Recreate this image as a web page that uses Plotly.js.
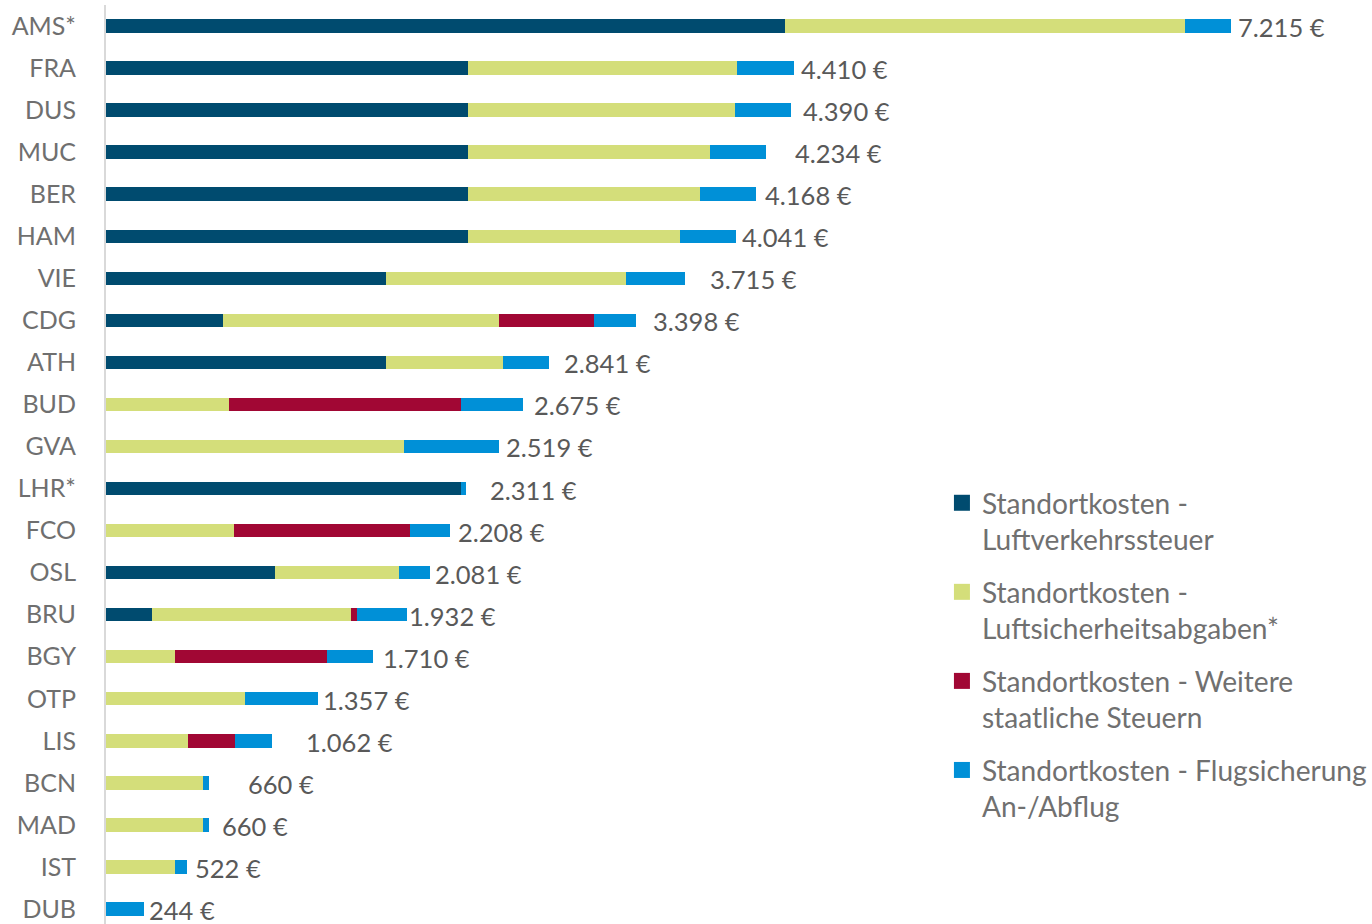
<!DOCTYPE html>
<html>
<head>
<meta charset="utf-8">
<script src="https://cdn.plot.ly/plotly-3.0.1.min.js"></script>
<style>
  html, body { margin: 0; padding: 0; background: #ffffff; }
  #chart { width: 1372px; height: 924px; }
</style>
</head>
<body>
<div id="chart"></div>
<script>
// ---- Data ----
const airports = ["AMS*", "FRA", "DUS", "MUC", "BER", "HAM", "VIE", "CDG", "ATH", "BUD", "GVA",
                  "LHR*", "FCO", "OSL", "BRU", "BGY", "OTP", "LIS", "BCN", "MAD", "IST", "DUB"];

const luftverkehrssteuer = [4355, 2324, 2324, 2324, 2324, 2324, 1794, 750, 1794, 0, 0,
                            2277, 0, 1084, 295, 0, 0, 0, 0, 0, 0, 0];
const luftsicherheit     = [2565, 1723, 1708, 1548, 1484, 1356, 1543, 1772, 752, 791, 1909,
                            0, 823, 797, 1278, 445, 894, 528, 622, 622, 445, 0];
const weitereSteuern     = [0, 0, 0, 0, 0, 0, 0, 605, 0, 1488, 0,
                            0, 1125, 0, 37, 973, 0, 299, 0, 0, 0, 0];
const flugsicherung      = [295, 363, 358, 362, 360, 361, 378, 271, 295, 396, 610,
                            34, 260, 200, 322, 292, 463, 235, 38, 38, 77, 244];

const totals = [7215, 4410, 4390, 4234, 4168, 4041, 3715, 3398, 2841, 2675, 2519,
                2311, 2208, 2081, 1932, 1710, 1357, 1062, 660, 660, 522, 244];

const seriesNames = [
  "Standortkosten -<br>Luftverkehrssteuer",
  "Standortkosten -<br>Luftsicherheitsabgaben*",
  "Standortkosten - Weitere<br>staatliche Steuern",
  "Standortkosten - Flugsicherung<br>An-/Abflug"
];

// ---- Styles ----
const colors = ["#004b6f", "#d4de7a", "#a10734", "#0090d7"];
// horizontal gap (px) between bar end and value label, as placed in the reference
const labelGap = [5, 5, 10, 27, 7, 4, 23, 15, 13, 9, 5, 22, 6, 3, 0, 8, 3, 32, 37, 11, 6, 3];

const FONT = "'Source Sans Pro', Lato, 'Noto Sans', sans-serif";

function fmt(v) {
  const s = String(v);
  return s.replace(/\B(?=(\d{3})+(?!\d))/g, ".") + "\u00A0€";
}

const seriesValues = [luftverkehrssteuer, luftsicherheit, weitereSteuern, flugsicherung];

// stacked bars (legend shown through matching square-marker entries below)
const barTraces = seriesValues.map((vals, i) => ({
  type: "bar",
  orientation: "h",
  name: seriesNames[i],
  legendgroup: "g" + i,
  showlegend: false,
  x: vals,
  y: airports,
  marker: { color: colors[i], line: { width: 0 } },
  width: 0.32,
  hoverinfo: "x+y+name"
}));

const legendTraces = seriesNames.map((nm, i) => ({
  type: "scatter",
  mode: "markers",
  name: nm,
  legendgroup: "g" + i,
  x: [null],
  y: [null],
  marker: { symbol: "square", size: 16, color: colors[i] },
  hoverinfo: "skip"
}));

const annotations = airports.map((a, i) => ({
  x: totals[i],
  y: a,
  xref: "x",
  yref: "y",
  text: fmt(totals[i]),
  showarrow: false,
  xanchor: "left",
  yanchor: "middle",
  xshift: labelGap[i],
  yshift: -1,
  font: { family: FONT, size: 25.5, color: "#595959" }
}));

const pxPerEuro = 0.155925;
const plotLeft = 106;
const plotWidth = 1372 - plotLeft;

const layout = {
  width: 1372,
  height: 924,
  margin: { l: plotLeft, r: 0, t: 5, b: 0, autoexpand: false },
  paper_bgcolor: "#ffffff",
  plot_bgcolor: "#ffffff",
  barmode: "stack",
  showlegend: true,
  font: { family: FONT, color: "#6f6f6f" },
  xaxis: {
    range: [0, plotWidth / pxPerEuro],
    visible: false,
    fixedrange: true
  },
  yaxis: {
    type: "category",
    categoryorder: "array",
    categoryarray: airports,
    range: [21.357, -0.5],
    showline: true,
    linecolor: "#d9d9d9",
    linewidth: 2,
    showgrid: false,
    zeroline: false,
    ticks: "",
    ticklabelstandoff: 23,
    tickfont: { family: FONT, size: 25, color: "#6f6f6f" },
    fixedrange: true
  },
  legend: {
    x: 0.6603,
    xanchor: "left",
    y: 0.4853,
    yanchor: "top",
    traceorder: "grouped",
    tracegroupgap: 13,
    valign: "top",
    font: { family: FONT, size: 28.1, color: "#707070" },
    bgcolor: "rgba(0,0,0,0)",
    itemwidth: 30
  },
  annotations: annotations
};

Plotly.newPlot("chart", barTraces.concat(legendTraces), layout, { displayModeBar: false, staticPlot: true });
</script>
</body>
</html>
